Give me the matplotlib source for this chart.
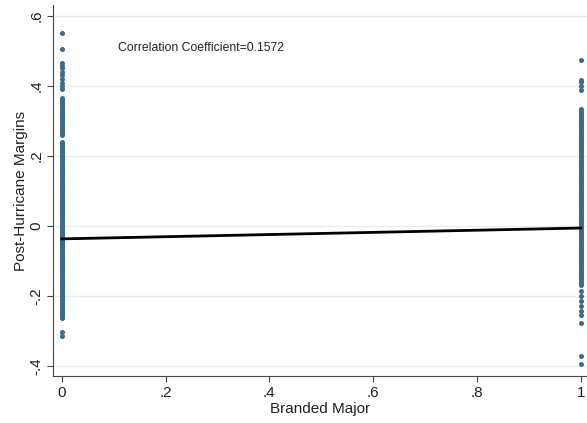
import matplotlib
matplotlib.use("Agg")
import matplotlib.pyplot as plt

plt.rcParams['font.family'] = ['Liberation Sans', 'DejaVu Sans']

# Post-hurricane margins for unbranded (0) and branded (1) majors
margins_unbranded = [
    0.550, 0.506, 0.465, 0.458, 0.451, 0.441, 0.431, 0.420, 0.408, 0.400, 0.390,
    0.365, 0.360, 0.355, 0.350, 0.345, 0.340, 0.335, 0.330, 0.325, 0.320, 0.315,
    0.310, 0.305, 0.300, 0.295, 0.290, 0.285, 0.280, 0.275, 0.270, 0.265, 0.260,
    0.240, 0.235, 0.230, 0.225, 0.220, 0.215, 0.210, 0.205, 0.200, 0.195, 0.190,
    0.185, 0.180, 0.175, 0.170, 0.165, 0.160, 0.155, 0.150, 0.145, 0.140, 0.135,
    0.130, 0.125, 0.120, 0.115, 0.110, 0.105, 0.100, 0.095, 0.090, 0.085, 0.080,
    0.075, 0.070, 0.065, 0.060, 0.055, 0.050, 0.045, 0.040, 0.035, 0.030, 0.025,
    0.020, 0.015, 0.010, 0.005, 0.000, -0.005, -0.010, -0.015, -0.020, -0.025,
    -0.030, -0.035, -0.040, -0.045, -0.050, -0.055, -0.060, -0.065, -0.070,
    -0.075, -0.080, -0.085, -0.090, -0.095, -0.100, -0.105, -0.110, -0.115,
    -0.120, -0.125, -0.130, -0.135, -0.140, -0.145, -0.150, -0.155, -0.160,
    -0.165, -0.170, -0.175, -0.180, -0.185, -0.190, -0.195, -0.200, -0.205,
    -0.210, -0.215, -0.220, -0.225, -0.230, -0.235, -0.240, -0.245, -0.250,
    -0.255, -0.260, -0.263, -0.302, -0.314,
]
margins_branded = [
    0.474, 0.417, 0.410, 0.400, 0.389,
    0.333, 0.328, 0.323, 0.318, 0.313, 0.308, 0.303, 0.298, 0.293, 0.288, 0.283,
    0.278, 0.273, 0.268, 0.263, 0.258, 0.253, 0.248, 0.243, 0.238, 0.233, 0.228,
    0.223, 0.218, 0.213, 0.208, 0.203, 0.198, 0.193, 0.188, 0.183, 0.178, 0.173,
    0.168, 0.163, 0.158, 0.153, 0.148, 0.143, 0.138, 0.133, 0.128, 0.123, 0.118,
    0.113, 0.108, 0.103, 0.098, 0.093, 0.088, 0.083, 0.078, 0.073, 0.068, 0.063,
    0.058, 0.053, 0.048, 0.043, 0.038, 0.033, 0.028, 0.023, 0.018, 0.013, 0.008,
    0.003, -0.002, -0.007, -0.012, -0.017, -0.022, -0.027, -0.032, -0.037,
    -0.042, -0.047, -0.052, -0.057, -0.062, -0.067, -0.072, -0.077, -0.082,
    -0.087, -0.092, -0.097, -0.102, -0.107, -0.112, -0.117, -0.122, -0.127,
    -0.132, -0.137, -0.142, -0.147, -0.152, -0.157, -0.163,
    -0.170, -0.185, -0.200, -0.215, -0.230, -0.243, -0.254, -0.276,
    -0.371, -0.395,
]

# Linear fit values at the two ends of the x range
fit_x = [0.0, 1.0]
fit_y = [-0.037, -0.006]

corr_label = "Correlation Coefficient=0.1572"
x_ticks = [0, 0.2, 0.4, 0.6, 0.8, 1.0]
x_tick_labels = ["0", ".2", ".4", ".6", ".8", "1"]
y_ticks = [-0.4, -0.2, 0.0, 0.2, 0.4, 0.6]
y_tick_labels = ["-.4", "-.2", "0", ".2", ".4", ".6"]

fig = plt.figure(figsize=(5.87, 4.23), dpi=100)
ax = fig.add_axes([53 / 587, 1 - 376 / 423, 534 / 587, 371 / 423])

point_color = "#3e6b8b"
ax.scatter([0] * len(margins_unbranded), margins_unbranded, s=13,
           color=point_color, linewidths=0, zorder=3)
ax.scatter([1] * len(margins_branded), margins_branded, s=13,
           color=point_color, linewidths=0, zorder=3)
ax.plot(fit_x, fit_y, color="black", linewidth=2.0, zorder=4)

ax.text(0.108, 0.509, corr_label, fontsize=8.8, color="#222222",
        ha="left", va="center")

ax.set_xlim(-0.017, 1.012)
ax.set_ylim(-0.4286, 0.631)
ax.set_xticks(x_ticks)
ax.set_xticklabels(x_tick_labels)
ax.set_yticks(y_ticks)
ax.set_yticklabels(y_tick_labels, rotation=90, va="center")

ax.grid(axis="y", color="#e6eef1", linewidth=1.0)
ax.set_axisbelow(True)
for side in ("top", "right"):
    ax.spines[side].set_visible(False)
for side in ("left", "bottom"):
    ax.spines[side].set_color("#444444")
    ax.spines[side].set_linewidth(0.8)
ax.tick_params(axis="both", direction="out", length=4, width=0.8,
               color="#444444", labelsize=11, labelcolor="#222222", pad=3)

ax.set_xlabel("Branded Major", fontsize=11, color="#222222", labelpad=2)
ax.set_ylabel("Post-Hurricane Margins", fontsize=11, color="#222222", labelpad=1)

fig.savefig("out.png", dpi=100, facecolor="white")
